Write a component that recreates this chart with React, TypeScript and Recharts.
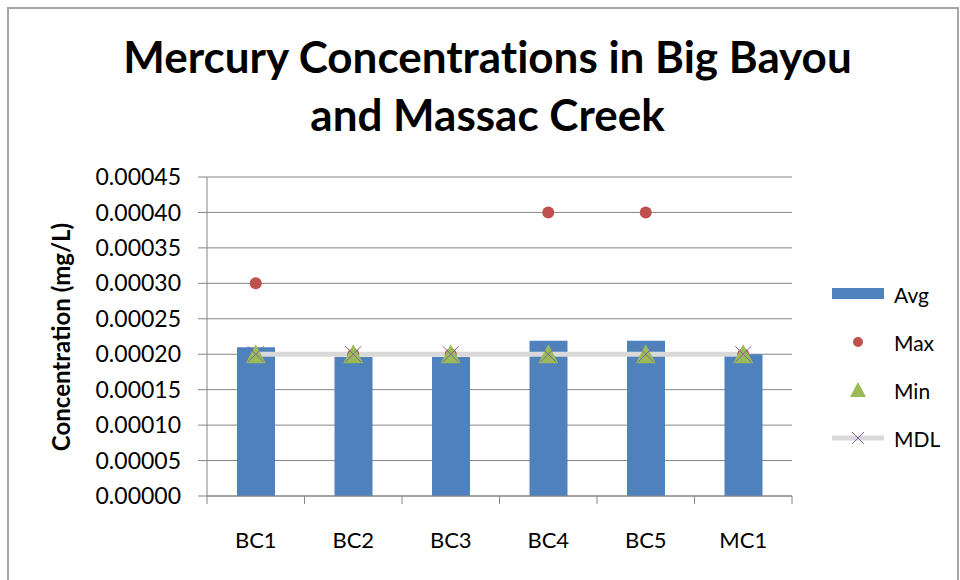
import React from "react";
import {
  ComposedChart,
  Bar,
  Line,
  Scatter,
  XAxis,
  YAxis,
  CartesianGrid,
  Legend,
} from "recharts";

// values (mg/L)
const sites = ["BC1", "BC2", "BC3", "BC4", "BC5", "MC1"];
const avgValues = [0.00021, 0.000196, 0.000196, 0.000219, 0.000219, 0.0002];
const maxValues = [0.0003, 0.0002, 0.0002, 0.0004, 0.0004, 0.0002];
const minValues = [0.0002, 0.0002, 0.0002, 0.0002, 0.0002, 0.0002];
const mdlValues = [0.0002, 0.0002, 0.0002, 0.0002, 0.0002, 0.0002];
const yTicks = [
  0, 0.00005, 0.0001, 0.00015, 0.0002, 0.00025, 0.0003, 0.00035, 0.0004,
  0.00045,
];
const legendOrder = ["avg", "max", "min", "mdl"];

const data = sites.map((site, i) => ({
  site,
  avg: avgValues[i],
  max: maxValues[i],
  min: minValues[i],
  mdl: mdlValues[i],
}));

const FONT = "Lato, 'Open Sans', sans-serif";
const AXIS_GRAY = "#868686";
const BLUE = "#4F81BD";
const RED = "#C0504D";
const GREEN = "#9BBB59";
const PURPLE = "#8064A2";
const MDL_GRAY = "#D9D9D9";

const MaxDot = (p: any) =>
  p.cx == null ? null : <circle cx={p.cx} cy={p.cy} r={6} fill={RED} />;

const MinTriangle = (p: any) =>
  p.cx == null ? null : (
    <path
      d={`M${p.cx},${p.cy - 10} L${p.cx + 10},${p.cy + 9} L${p.cx - 10},${p.cy + 9} Z`}
      fill={GREEN}
    />
  );

const Cross = (p: any) => {
  if (p.cx == null) return null;
  const s = 8;
  return (
    <path
      key={p.key}
      d={`M${p.cx - s},${p.cy - s} L${p.cx + s},${p.cy + s} M${p.cx - s},${p.cy + s} L${p.cx + s},${p.cy - s}`}
      stroke={PURPLE}
      strokeWidth={1}
      fill="none"
    />
  );
};

// Excel-style category tick: label at the centre, tick mark on the boundary
const SiteTick = (p: any) => {
  const half = p.payload.offset || 0;
  return (
    <g>
      <line
        x1={p.x + half}
        x2={p.x + half}
        y1={p.y - 8}
        y2={p.y}
        stroke={AXIS_GRAY}
      />
      {p.index === 0 && (
        <line
          x1={p.x - half}
          x2={p.x - half}
          y1={p.y - 8}
          y2={p.y}
          stroke={AXIS_GRAY}
        />
      )}
      <text
        x={p.x}
        y={p.y + 44}
        textAnchor="middle"
        fontFamily={FONT}
        fontSize={22}
        fill="#000"
      >
        {p.payload.value}
      </text>
    </g>
  );
};

const legendIcon = (key: string) => {
  if (key === "avg") return <rect x={0} y={4} width={52} height={11} fill={BLUE} />;
  if (key === "max") return <circle cx={26} cy={10} r={5} fill={RED} />;
  if (key === "min")
    return <path d="M26,2 L34,17 L18,17 Z" fill={GREEN} />;
  return (
    <g>
      <line x1={0} x2={52} y1={10} y2={10} stroke={MDL_GRAY} strokeWidth={5} />
      <path d="M20,4 L32,16 M20,16 L32,4" stroke={PURPLE} strokeWidth={1} />
    </g>
  );
};

const LegendBox = (props: any) => {
  const items = [...(props.payload || [])].sort(
    (a: any, b: any) =>
      legendOrder.indexOf(a.dataKey) - legendOrder.indexOf(b.dataKey)
  );
  return (
    <div style={{ fontFamily: FONT, fontSize: 21, color: "#000" }}>
      {items.map((item: any) => (
        <div
          key={item.dataKey}
          style={{ display: "flex", alignItems: "center", height: 48 }}
        >
          <svg width={58} height={20}>
            {legendIcon(item.dataKey)}
          </svg>
          <span style={{ marginLeft: 4 }}>{item.value}</span>
        </div>
      ))}
    </div>
  );
};

export default function App() {
  return (
    <div
      style={{
        position: "absolute",
        left: 0,
        top: 0,
        width: 960,
        height: 580,
        background: "#fff",
        overflow: "hidden",
      }}
    >
      <div
        style={{
          position: "absolute",
          left: 7,
          top: 7,
          width: 948,
          height: 600,
          border: "2px solid #a6a6a6",
        }}
      />
      <div
        style={{
          position: "absolute",
          left: 0,
          width: 975,
          top: 27,
          textAlign: "center",
          fontFamily: FONT,
          fontWeight: 700,
          fontSize: 44,
          lineHeight: "58px",
          fontVariantLigatures: "none",
          color: "#000",
        }}
      >
        Mercury Concentrations in Big Bayou
        <br />
        and Massac Creek
      </div>
      <div
        style={{
          position: "absolute",
          left: 60,
          top: 337,
          transform: "translate(-50%, -50%) rotate(-90deg)",
          whiteSpace: "nowrap",
          fontFamily: FONT,
          fontWeight: 700,
          fontSize: 24,
          color: "#000",
        }}
      >
        Concentration (mg/L)
      </div>
      <ComposedChart
        width={960}
        height={580}
        data={data}
        margin={{ top: 177, right: 48, bottom: 24, left: 107 }}
        style={{ position: "absolute", left: 0, top: 0 }}
      >
        <CartesianGrid vertical={false} stroke={AXIS_GRAY} />
        <XAxis
          dataKey="site"
          height={60}
          axisLine={{ stroke: AXIS_GRAY }}
          tickLine={false}
          tick={<SiteTick />}
          interval={0}
        />
        <YAxis
          width={100}
          domain={[0, 0.00045]}
          ticks={yTicks}
          tickFormatter={(v: number) => v.toFixed(5)}
          axisLine={{ stroke: AXIS_GRAY }}
          tickLine={{ stroke: AXIS_GRAY }}
          tickSize={9}
          tickMargin={17}
          tick={{ fontFamily: FONT, fontSize: 23, fill: "#000" }}
        />
        <Legend
          layout="vertical"
          align="right"
          verticalAlign="top"
          content={<LegendBox />}
          wrapperStyle={{ left: 832, top: 270, width: 120 }}
        />
        <Bar
          dataKey="avg"
          name="Avg"
          fill={BLUE}
          barSize={38}
          isAnimationActive={false}
        />
        <Line
          dataKey="mdl"
          name="MDL"
          stroke={MDL_GRAY}
          strokeWidth={5}
          dot={<Cross />}
          activeDot={false}
          isAnimationActive={false}
        />
        <Scatter
          dataKey="max"
          name="Max"
          fill={RED}
          shape={<MaxDot />}
          isAnimationActive={false}
        />
        <Scatter
          dataKey="min"
          name="Min"
          fill={GREEN}
          shape={<MinTriangle />}
          isAnimationActive={false}
        />
      </ComposedChart>
    </div>
  );
}
